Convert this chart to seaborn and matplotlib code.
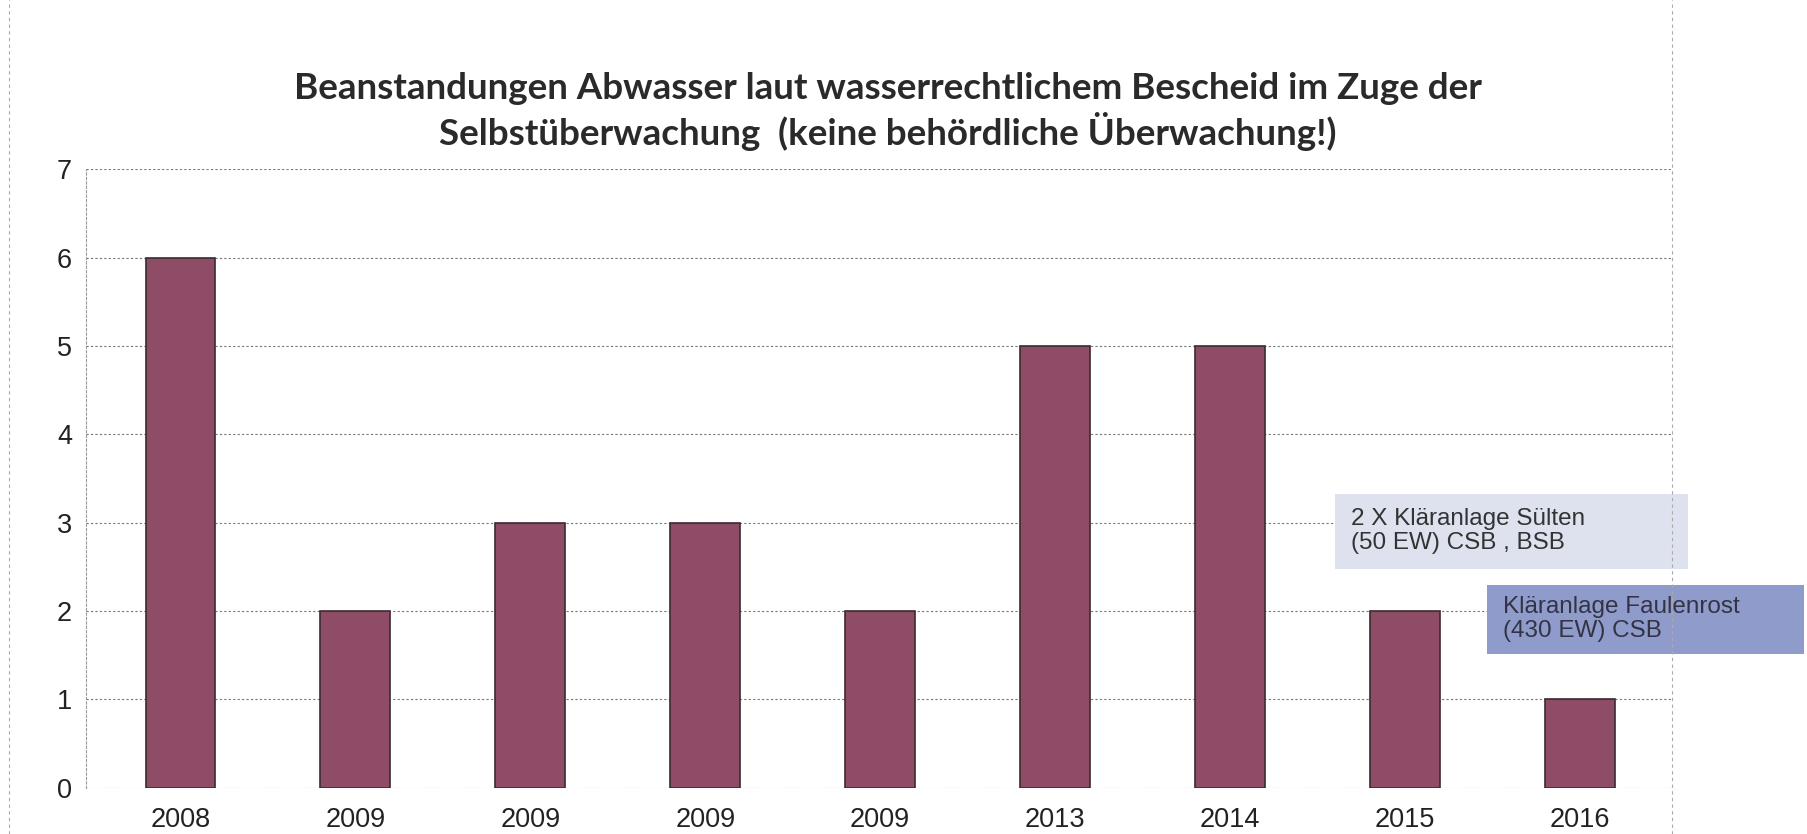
import numpy as np
import pandas as pd
import matplotlib
matplotlib.use("Agg")
import matplotlib.pyplot as plt
from matplotlib.patches import Rectangle
import seaborn as sns

# values
years = ["2008", "2009", "2009", "2009", "2009", "2013", "2014", "2015", "2016"]
counts = [6, 2, 3, 3, 2, 5, 5, 2, 1]
y_ticks = [0, 1, 2, 3, 4, 5, 6, 7]

title = ("Beanstandungen Abwasser laut wasserrechtlichem Bescheid im Zuge der\n"
         "Selbstüberwachung  (keine behördliche Überwachung!)")
note_1 = "2 X Kläranlage Sülten\n(50 EW) CSB , BSB"
note_2 = "Kläranlage Faulenrost\n(430 EW) CSB"

df = pd.DataFrame({"pos": range(len(years)), "count": counts})

sns.set_style("white")
plt.rcParams["font.family"] = ["Liberation Sans", "DejaVu Sans"]

fig = plt.figure(figsize=(18.08, 8.34), dpi=100)
ax = fig.add_axes([0.0476, 0.0556, 0.8774, 0.7412])

sns.barplot(data=df, x="pos", y="count", color="#8e4c66", width=0.4,
            saturation=1, edgecolor="#3b2b30", linewidth=1.2, ax=ax)

ax.set_ylim(0, 7)
ax.set_xlim(-0.54, 8.53)
ax.set_yticks(y_ticks)
ax.set_yticklabels([str(t) for t in y_ticks], fontsize=19.5, color="#222222")
ax.set_xticks(range(len(years)))
ax.set_xticklabels(years, fontsize=19.5, color="#222222")
ax.tick_params(axis="y", length=0, pad=10)
ax.tick_params(axis="x", length=0, pad=14)
ax.set_xlabel("")
ax.set_ylabel("")

ax.yaxis.grid(True, linestyle=(0, (2, 2)), color="#777777", linewidth=0.8)
ax.set_axisbelow(True)
for s in ["top", "right", "bottom"]:
    ax.spines[s].set_visible(False)
ax.spines["left"].set_linestyle((0, (2, 2)))
ax.spines["left"].set_color("#999999")
ax.spines["left"].set_linewidth(0.8)

fig.text(0.491, 0.866, title, ha="center", va="center", fontsize=26.5,
         fontweight="bold", family=["Lato", "DejaVu Sans"], color="#2a2a2a",
         linespacing=1.2)

# annotation boxes
ax.add_patch(Rectangle((6.6, 2.48), 2.02, 0.85, facecolor="#dde2ee",
                       edgecolor="none", clip_on=False, zorder=3))
ax.text(6.69, 2.91, note_1, fontsize=17.5, color="#333333", va="center",
        ha="left", clip_on=False, linespacing=1.1, zorder=4)
ax.add_patch(Rectangle((7.47, 1.515), 1.81, 0.775, facecolor="#8f9ccb",
                       edgecolor="none", clip_on=False, zorder=3))
ax.text(7.56, 1.91, note_2, fontsize=17.5, color="#333344", va="center",
        ha="left", clip_on=False, linespacing=1.1, zorder=4)

# dashed frame of the chart area
for xf in [0.005, 0.925]:
    fig.add_artist(plt.Line2D([xf, xf], [0, 1], transform=fig.transFigure,
                              color="#aaaaaa", linestyle=(0, (3, 3)),
                              linewidth=0.8))

fig.savefig("out.png", dpi=100)
